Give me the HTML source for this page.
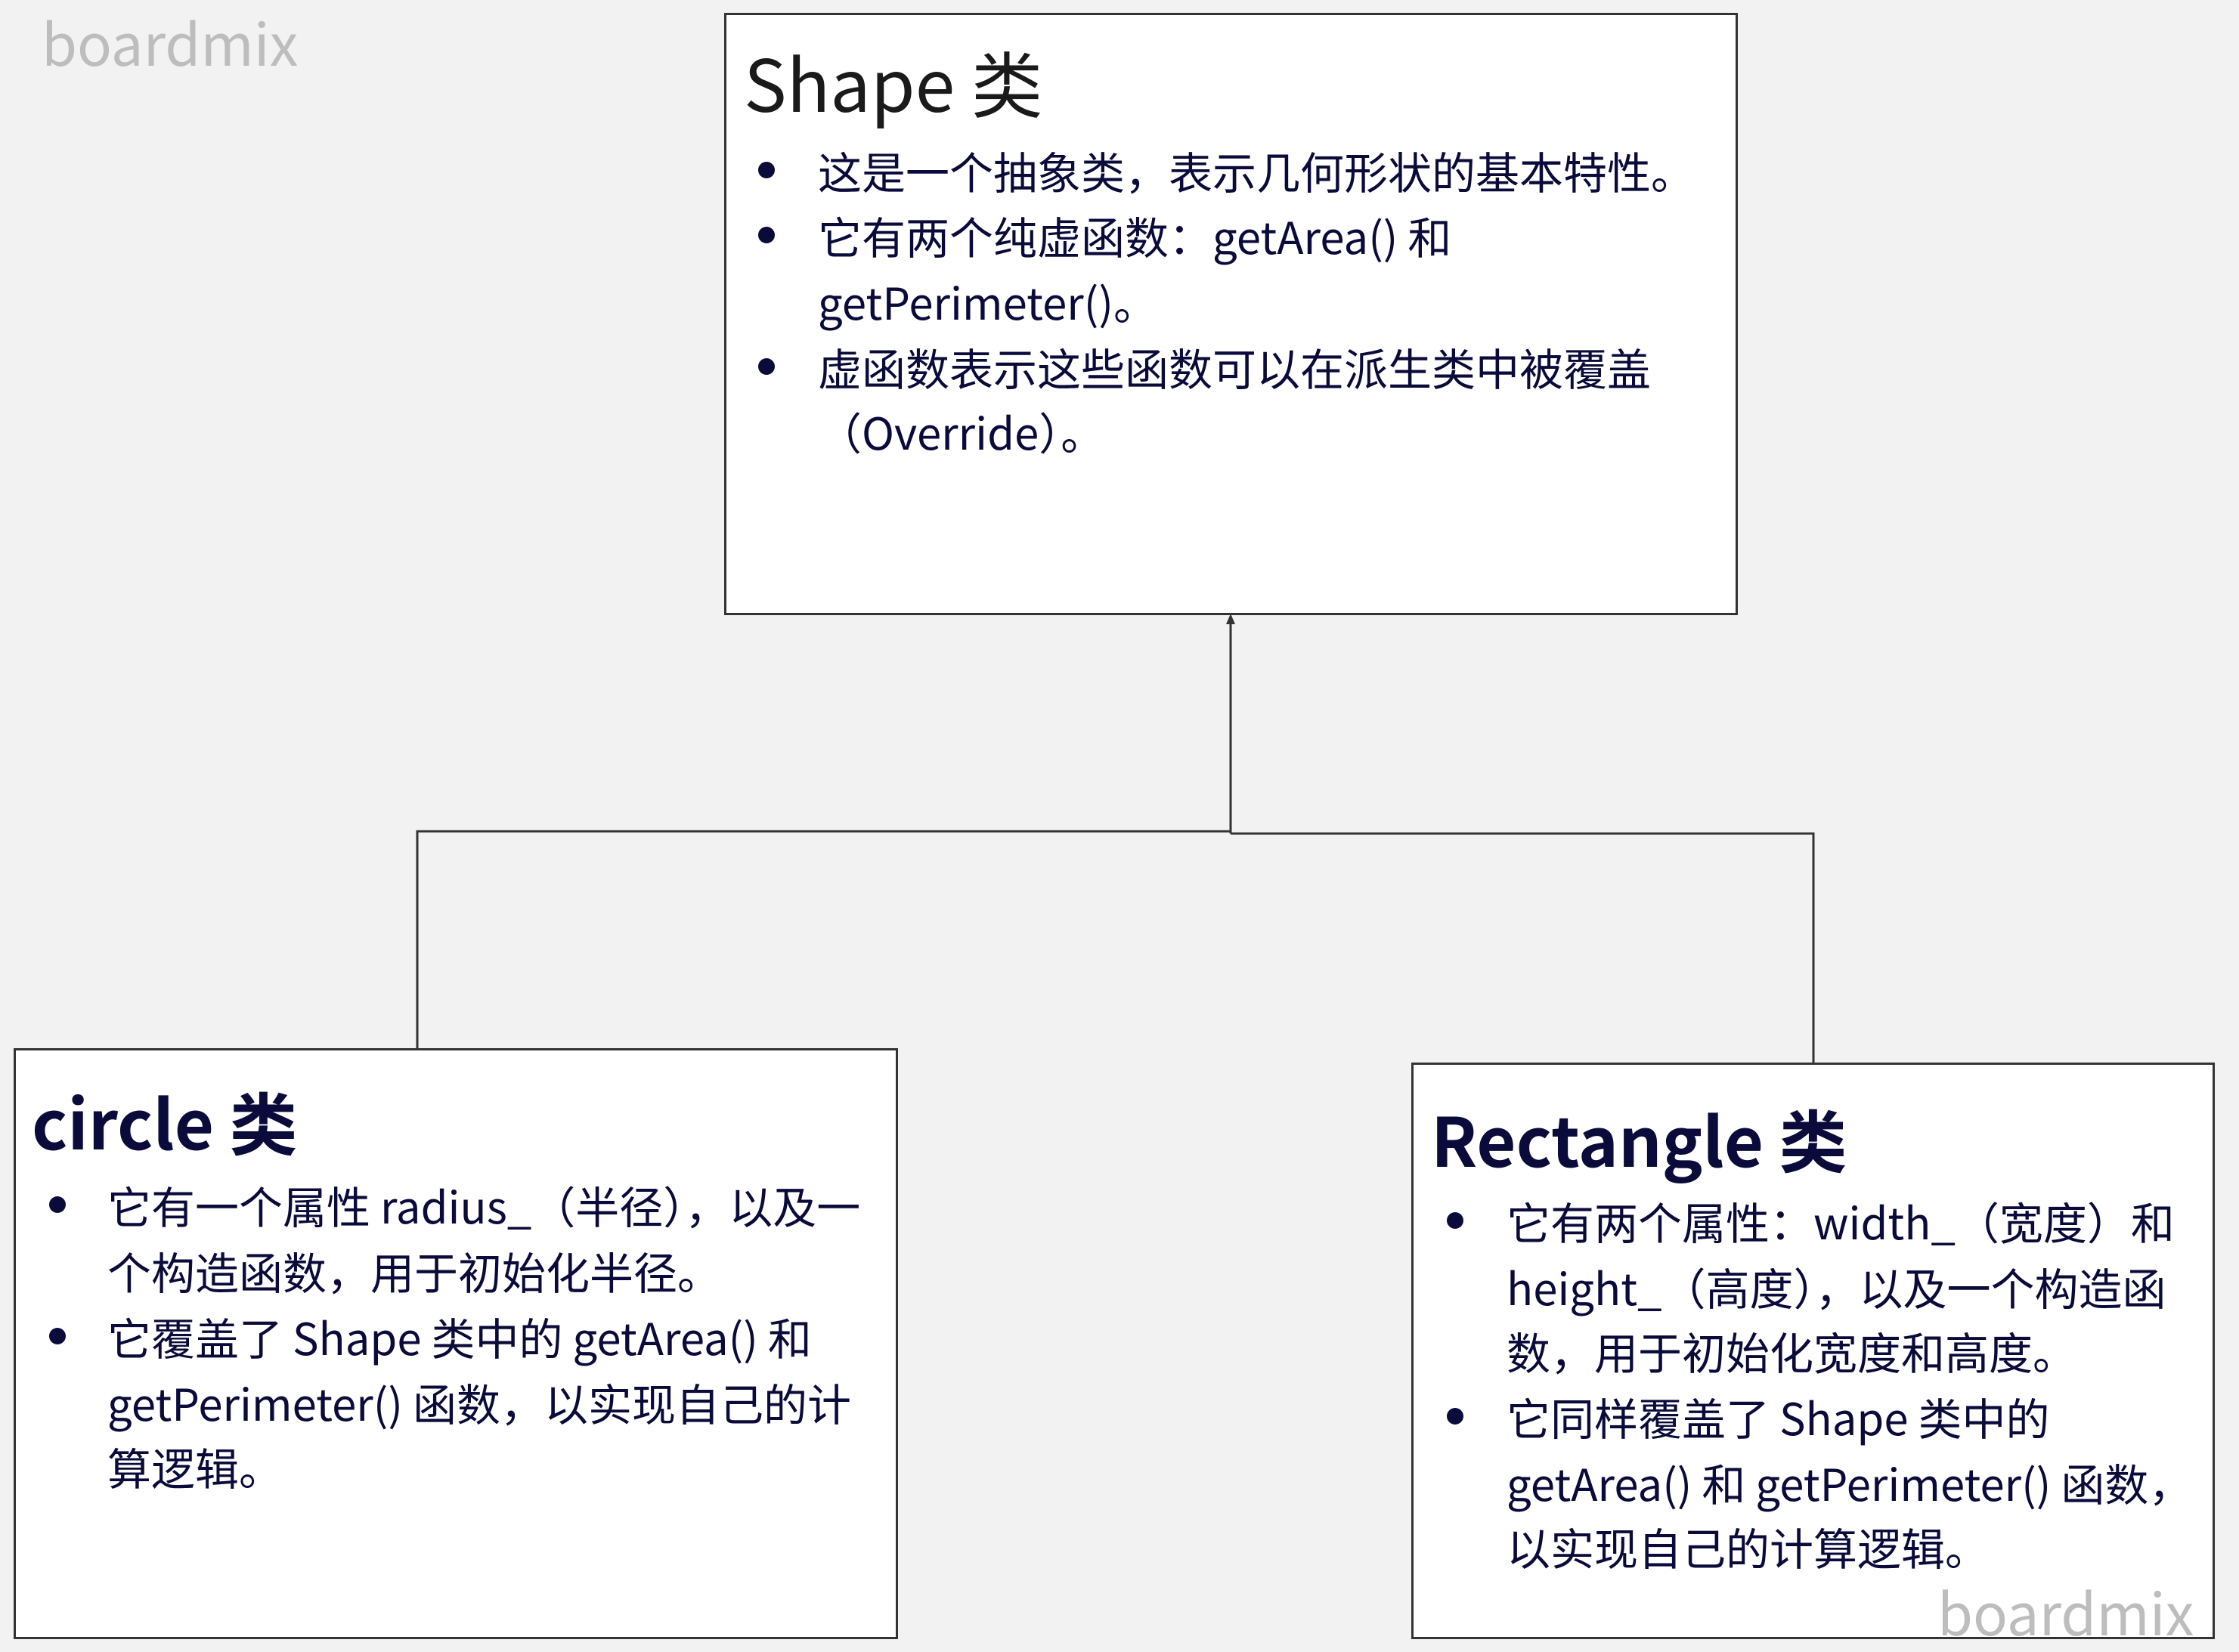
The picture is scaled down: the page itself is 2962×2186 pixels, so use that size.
<!DOCTYPE html>
<html><head><meta charset="utf-8"><style>
html,body{margin:0;padding:0}
body{width:2962px;height:2186px;background:#f2f2f2;position:relative;overflow:hidden;font-family:"Noto Sans CJK SC","Liberation Sans",sans-serif}
.box{position:absolute;background:#fff;border:3px solid #333;box-sizing:border-box}
.t{position:absolute;white-space:nowrap;line-height:1;color:#0b0b3b;font-size:58px}
.ti{position:absolute;white-space:nowrap;line-height:1;font-size:95px;color:#1a1a1a}
.d{position:absolute;width:22px;height:22px;border-radius:50%;background:#0b0b3b}
.wm{position:absolute;white-space:nowrap;line-height:1;font-size:76px;color:#bdbdbd}
</style></head><body>
<div class="wm" style="left:55px;top:16px">boardmix</div>

<svg style="position:absolute;left:0;top:0" width="2962" height="2186">
<g stroke="#333" stroke-width="3" fill="none">
<line x1="1628" y1="820" x2="1628" y2="1103"/>
<polyline points="552,1390 552,1100 1628,1100"/>
<polyline points="1628,1103 2399,1103 2399,1409"/>
</g>
<polygon points="1628,812 1622,826 1634,826" fill="#333"/>
</svg>

<div class="box" style="left:958px;top:17px;width:1341px;height:797px"></div>
<div class="ti" style="left:984px;top:60px">Shape 类</div>
<div class="d" style="left:1003px;top:214px"></div>
<div class="t" style="left:1082px;top:196px">这是一个抽象类，表示几何形状的基本特性。</div>
<div class="d" style="left:1003px;top:300px"></div>
<div class="t" style="left:1082px;top:282px">它有两个纯虚函数：getArea() 和</div>
<div class="t" style="left:1082px;top:369px">getPerimeter()。</div>
<div class="d" style="left:1003px;top:474px"></div>
<div class="t" style="left:1082px;top:456px">虚函数表示这些函数可以在派生类中被覆盖</div>
<div class="t" style="left:1082px;top:541px">（Override）。</div>

<div class="box" style="left:18px;top:1387px;width:1170px;height:782px"></div>
<div class="ti" style="left:42px;top:1437px;font-weight:bold;color:#0b0b3b;font-size:90px">circle 类</div>
<div class="d" style="left:65px;top:1583px"></div>
<div class="t" style="left:142px;top:1565px">它有一个属性 radius_（半径），以及一</div>
<div class="t" style="left:142px;top:1652px">个构造函数，用于初始化半径。</div>
<div class="d" style="left:65px;top:1757px"></div>
<div class="t" style="left:142px;top:1739px">它覆盖了 Shape 类中的 getArea() 和</div>
<div class="t" style="left:142px;top:1826px">getPerimeter() 函数，以实现自己的计</div>
<div class="t" style="left:142px;top:1911px">算逻辑。</div>

<div class="box" style="left:1867px;top:1406px;width:1063px;height:763px"></div>
<div class="ti" style="left:1893px;top:1460px;font-weight:bold;color:#0b0b3b;font-size:90px">Rectangle 类</div>
<div class="d" style="left:1914px;top:1604px"></div>
<div class="t" style="left:1993px;top:1586px">它有两个属性：width_（宽度）和</div>
<div class="t" style="left:1993px;top:1673px">height_（高度），以及一个构造函</div>
<div class="t" style="left:1993px;top:1758px">数，用于初始化宽度和高度。</div>
<div class="d" style="left:1914px;top:1863px"></div>
<div class="t" style="left:1993px;top:1845px">它同样覆盖了 Shape 类中的</div>
<div class="t" style="left:1993px;top:1932px">getArea() 和 getPerimeter() 函数，</div>
<div class="t" style="left:1993px;top:2017px">以实现自己的计算逻辑。</div>

<div class="wm" style="left:2563px;top:2093px">boardmix</div>
</body></html>
